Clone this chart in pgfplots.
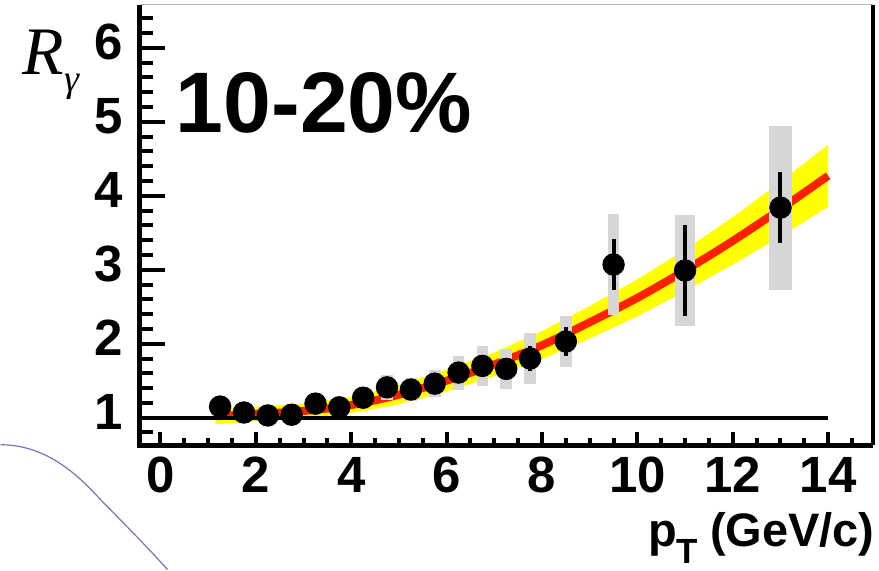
\documentclass[border=0pt]{standalone}
\usepackage{fontspec}
\setmainfont{Liberation Sans}
\newfontfamily\serifit{Liberation Serif}
\usepackage{pgfplots}
\usepackage{pgfplotstable}
\pgfplotsset{compat=1.18}
\definecolor{sysgray}{RGB}{214,214,214}
\definecolor{thred}{RGB}{255,32,0}
\definecolor{thyel}{RGB}{255,255,0}
\definecolor{strayblue}{RGB}{112,118,184}

\pgfplotstableread{
x y stat sys
1.25 1.15 0.03 0.12
1.75 1.07 0.03 0.10
2.25 1.03 0.03 0.10
2.75 1.04 0.03 0.20
3.25 1.19 0.04 0.10
3.75 1.14 0.04 0.10
4.25 1.27 0.05 0.12
4.75 1.41 0.06 0.17
5.25 1.38 0.07 0.16
5.75 1.46 0.08 0.18
6.25 1.61 0.09 0.23
6.75 1.70 0.10 0.27
7.25 1.66 0.12 0.27
7.75 1.80 0.17 0.34
8.5 2.03 0.20 0.35
9.5 3.07 0.34 0.68
11 2.99 0.62 0.75
13 3.84 0.48 1.11
}\alltab

\pgfplotstableread{
x y sys
1.25 1.15 0.12
1.75 1.07 0.10
2.25 1.03 0.10
2.75 1.04 0.11
3.25 1.19 0.10
3.75 1.14 0.10
4.25 1.27 0.12
4.75 1.41 0.17
5.25 1.38 0.16
5.75 1.46 0.18
6.25 1.61 0.23
6.75 1.70 0.27
7.25 1.66 0.27
7.75 1.80 0.34
8.5 2.03 0.35
9.5 3.07 0.68
}\narrowtab

\pgfplotstableread{
x y sys
11 2.99 0.75
}\midtab

\pgfplotstableread{
x y sys
13 3.84 1.11
}\widetab

\begin{document}
\begin{tikzpicture}
\begin{axis}[
  at={(0,0)}, anchor=south west,
  width=367pt, height=220.25pt, scale only axis,
  xmin=-0.44, xmax=14.94, ymin=0.628, ymax=6.58,
  axis line style={draw=none},
  tick align=inside, xtick pos=bottom, ytick pos=left,
  xtick={0,2,4,6,8,10,12,14}, ytick={1,2,3,4,5,6},
  minor xtick={0,0.5,1,1.5,2,2.5,3,3.5,4,4.5,5,5.5,6,6.5,7,7.5,8,8.5,9,9.5,10,10.5,11,11.5,12,12.5,13,13.5,14,14.5},
  minor ytick={0.8,1,1.2,1.4,1.6,1.8,2,2.2,2.4,2.6,2.8,3,3.2,3.4,3.6,3.8,4,4.2,4.4,4.6,4.8,5,5.2,5.4,5.6,5.8,6,6.2,6.4},
  tick style={black, line width=2pt},
  x tick style={/pgfplots/major tick length=6.5pt, /pgfplots/minor tick length=3.5pt},
  y tick style={/pgfplots/major tick length=13pt, /pgfplots/minor tick length=7pt},
  /pgf/number format/assume math mode=true,
  ticklabel style={font=\fontsize{25.5}{25.5}\selectfont\bfseries, inner sep=0pt},
  xticklabel style={anchor=north, yshift=-5.75pt},
  yticklabel style={anchor=east, xshift=-8pt, yshift=3pt},
]
% theory band
\addplot[fill=thyel, draw=none] coordinates {
 (1.15,1.13) (2,1.15) (3,1.19) (4,1.28) (5,1.44) (6,1.65) (7,1.88) (8,2.17) (9,2.51) (10,2.87) (11,3.27) (12,3.71) (13,4.19) (14,4.69)
 (14,3.85) (13,3.45) (12,3.07) (11,2.71) (10,2.37) (9,2.07) (8,1.79) (7,1.56) (6,1.35) (5,1.18) (4,1.06) (3,0.99) (2,0.95) (1.15,0.91)
} -- cycle;
% theory central
\addplot[thred, line width=4pt, smooth] coordinates {
 (1.2,1.02) (2,1.05) (3,1.09) (4,1.17) (5,1.31) (6,1.50) (7,1.72) (8,1.98) (9,2.29) (10,2.62) (11,2.99) (12,3.39) (13,3.82) (14,4.27)
};
% unity line
\addplot[black, line width=2pt] coordinates {(-0.25,1) (14,1)};
% systematic boxes
\addplot[only marks, mark=none, error bars/.cd, y dir=both, y explicit, error mark=none,
  error bar style={draw=sysgray, line width=5.8pt}] table[x=x, y=y, y error=sys] {\narrowtab};
\addplot[only marks, mark=none, error bars/.cd, y dir=both, y explicit, error mark=none,
  error bar style={draw=sysgray, line width=10pt}] table[x=x, y=y, y error=sys] {\midtab};
\addplot[only marks, mark=none, error bars/.cd, y dir=both, y explicit, error mark=none,
  error bar style={draw=sysgray, line width=11.2pt}] table[x=x, y=y, y error=sys] {\widetab};
% data points with statistical errors
\addplot[only marks, mark=*, mark size=5.4pt, black, mark options={fill=black},
  error bars/.cd, y dir=both, y explicit, error mark=none,
  error bar style={draw=black, line width=2pt}] table[x=x, y=y, y error=stat] {\alltab};
\end{axis}
% frame
\draw[line width=0.5pt, gray!60] (0,220.25pt) -- (367pt,220.25pt);
\draw[line width=2.5pt, line join=miter] (0,220.25pt) -- (0,0) -- (367pt,0);
\draw[line width=2pt] (367pt,0) -- (367pt,220.25pt);
% texts
\node[anchor=base west, inner sep=0pt, font=\fontsize{43}{43}\selectfont\bfseries] at (18pt,156.25pt) {10-20\%};
\node[anchor=base west, inner sep=0pt] at (-58.5pt,185.25pt) {\serifit\itshape\fontsize{34}{34}\selectfont R\raisebox{-8.5pt}{\fontsize{19}{19}\selectfont γ}};
\node[anchor=base east, inner sep=0pt, font=\fontsize{23.5}{23.5}\selectfont\bfseries] at (368pt,-50.75pt) {p\raisebox{-8.5pt}{\fontsize{17.5}{17.5}\selectfont T}\hspace{6pt}(GeV/c)};
% stray curve
\draw[strayblue, line width=0.6pt] (-69.5pt,0.25pt) .. controls (-50pt,0pt) and (-35pt,-10pt) .. (-19.5pt,-27.25pt) .. controls (-8pt,-39pt) and (5pt,-52pt) .. (14pt,-62.25pt);
\path[use as bounding box] (-69.5pt,-62.25pt) rectangle (370pt,222.75pt);
\end{tikzpicture}
\end{document}
